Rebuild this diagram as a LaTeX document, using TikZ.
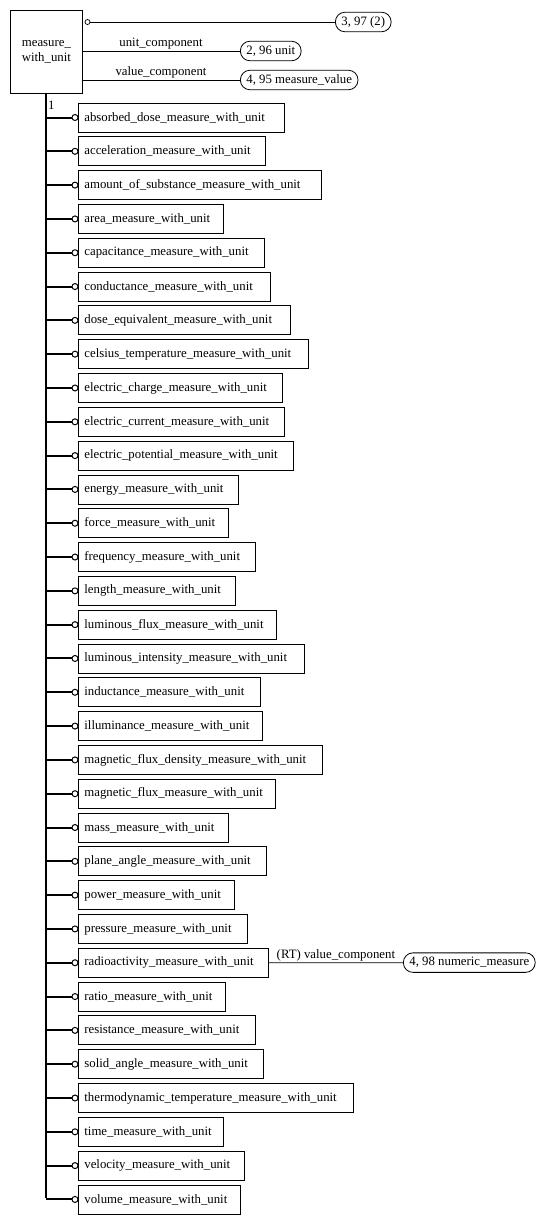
\documentclass[tikz,border=0pt]{standalone}
\usepackage{fontspec}
\setmainfont{Liberation Serif}
\begin{document}
\begin{tikzpicture}[x=1pt,y=-1pt,
  every node/.style={font=\fontsize{12.8}{15}\selectfont},
  ent/.style={draw,line width=0.8pt,rectangle,minimum height=29pt,anchor=west,inner xsep=6pt,align=left},
  oval/.style={draw,line width=0.8pt,rounded corners=9.5pt,minimum height=19.5pt,inner xsep=6pt,inner ysep=1pt},
  ring/.style={draw,circle,line width=1pt,fill=white,inner sep=0pt,minimum size=6pt},
  thin/.style={line width=0.7pt},
  trunk/.style={line width=2pt},
  lbl/.style={inner sep=1pt}]
\useasboundingbox (0,0) rectangle (548,1224);
\node[draw,line width=0.8pt,minimum width=72pt,minimum height=83pt,anchor=north west,align=center,inner sep=0pt] (main) at (10,10) {measure\_\\with\_unit};
\node[oval,anchor=west] (o1) at (335,22) {3, 97 (2)};
\node[oval,anchor=west] (o2) at (240,51) {2, 96 unit};
\node[oval,anchor=west] (o3) at (240,80) {4, 95 measure\_value};
\node[ring,minimum size=5pt,line width=0.7pt] (r0) at (87.5,22) {};
\draw[thin] (r0) -- (o1);
\coordinate (m1) at (82,51);
\coordinate (m2) at (82,80);
\draw[thin] (m1) -- node[lbl,above,pos=0.5] {unit\_component} (o2);
\draw[thin] (m2) -- node[lbl,above,pos=0.5] {value\_component} (o3);
\coordinate (ttop) at (46,93);
\node[lbl,anchor=west] (one) at (47,105) {1};
\foreach \txt/\w [count=\i] in {
absorbed\_dose\_measure\_with\_unit/206,
acceleration\_measure\_with\_unit/187,
amount\_of\_substance\_measure\_with\_unit/243,
area\_measure\_with\_unit/145,
capacitance\_measure\_with\_unit/186,
conductance\_measure\_with\_unit/192,
dose\_equivalent\_measure\_with\_unit/212,
celsius\_temperature\_measure\_with\_unit/230,
electric\_charge\_measure\_with\_unit/204,
electric\_current\_measure\_with\_unit/206,
electric\_potential\_measure\_with\_unit/215,
energy\_measure\_with\_unit/160,
force\_measure\_with\_unit/150,
frequency\_measure\_with\_unit/177,
length\_measure\_with\_unit/157,
luminous\_flux\_measure\_with\_unit/198,
luminous\_intensity\_measure\_with\_unit/226,
inductance\_measure\_with\_unit/182,
illuminance\_measure\_with\_unit/184,
magnetic\_flux\_density\_measure\_with\_unit/244,
magnetic\_flux\_measure\_with\_unit/197,
mass\_measure\_with\_unit/150,
plane\_angle\_measure\_with\_unit/188,
power\_measure\_with\_unit/156,
pressure\_measure\_with\_unit/169,
radioactivity\_measure\_with\_unit/190,
ratio\_measure\_with\_unit/147,
resistance\_measure\_with\_unit/177,
solid\_angle\_measure\_with\_unit/185,
thermodynamic\_temperature\_measure\_with\_unit/275,
time\_measure\_with\_unit/145,
velocity\_measure\_with\_unit/166,
volume\_measure\_with\_unit/162}{
  \pgfmathsetmacro{\yy}{117.5+(\i-1)*33.81}
  \node[ent,text width=\w pt-12pt] (b\i) at (78,\yy) {\txt};
  \node[ring] (c\i) at (75,\yy) {};
  \coordinate (t\i) at (46,\yy);
  \draw[trunk] (t\i) -- (c\i);
}
\draw[trunk] (ttop) -- ([yshift=1pt]t33);
\node[oval,anchor=west] (o4) at (403,962.6) {4, 98 numeric\_measure};
\draw[thin] (b26.east) -- node[lbl,above,pos=0.5] {(RT) value\_component} (o4);
\end{tikzpicture}
\end{document}
